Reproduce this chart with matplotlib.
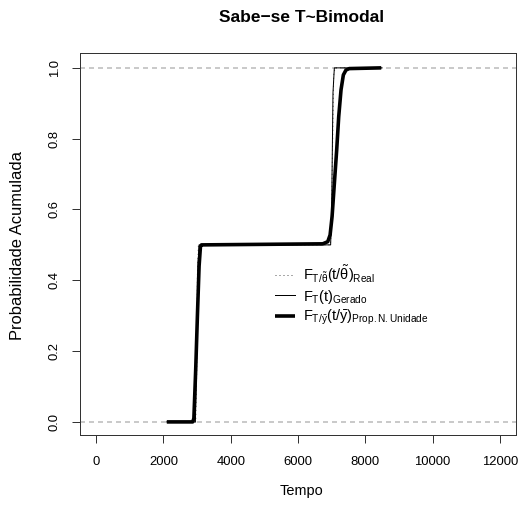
import numpy as np
import matplotlib
matplotlib.use("Agg")
import matplotlib.pyplot as plt

# ---- data ----
t_real = [2100, 2960, 2990, 3010, 3040, 6960, 6990, 7030, 7060, 7100, 8500]
F_real = [0.0, 0.0, 0.15, 0.42, 0.5, 0.5, 0.53, 0.8, 0.98, 1.0, 1.0]

t_gen = [2100, 2950, 2990, 3030, 3060, 6970, 7000, 7040, 7080, 8500]
F_gen = [0.0, 0.0, 0.2, 0.45, 0.5, 0.5, 0.6, 0.93, 1.0, 1.0]

t_prop = [2100, 2870, 2905, 2960, 3010, 3060, 3100, 3130, 6735, 6884, 6954, 7013, 7081,
          7150, 7210, 7279, 7348, 7427, 7526, 8474]
F_prop = [0.0, 0.0, 0.01, 0.15, 0.3, 0.44, 0.495, 0.5, 0.503, 0.509, 0.528, 0.58, 0.674,
          0.768, 0.862, 0.938, 0.98, 0.994, 0.998, 1.0]

ref_levels = [0.0, 1.0]
xticks = [0, 2000, 4000, 6000, 8000, 10000, 12000]
yticks = [0.0, 0.2, 0.4, 0.6, 0.8, 1.0]

title = "Sabe\u2212se T~Bimodal"
xlabel = "Tempo"
ylabel = "Probabilidade Acumulada"
labels = [r"$\mathrm{F_{T/\tilde{\theta}}(t/\tilde{\theta})_{Real}}$",
          r"$\mathrm{F_{T}(t)_{Gerado}}$",
          r"$\mathrm{F_{T/\bar{y}}(t/\bar{y})_{Prop.N.Unidade}}$"]

# ---- style ----
plt.rcParams['font.family'] = ['Liberation Sans', 'DejaVu Sans']
plt.rcParams['mathtext.fontset'] = 'custom'
plt.rcParams['mathtext.rm'] = 'Liberation Sans'
plt.rcParams['mathtext.it'] = 'Liberation Sans:italic'
plt.rcParams['mathtext.bf'] = 'Liberation Sans:bold'
plt.rcParams['lines.scale_dashes'] = False

DPI = 72
fig = plt.figure(figsize=(522 / DPI, 509 / DPI), dpi=DPI)
W, H = 522, 509
ax = fig.add_axes([80 / W, 1 - 435 / H, (516 - 80) / W, (435 - 53) / H])

for lv in ref_levels:
    ax.axhline(lv, color='#BEBEBE', lw=1.6, dashes=(5, 4), zorder=1)

l1, = ax.plot(t_real, F_real, color='#555555', lw=1.0, linestyle=(0, (1, 3)), zorder=2)
l2, = ax.plot(t_gen, F_gen, color='black', lw=1.0, zorder=3)
l3, = ax.plot(t_prop, F_prop, color='black', lw=3.6, zorder=4,
              solid_capstyle='butt', solid_joinstyle='round')

ax.set_xlim(-480, 12480)
ax.set_ylim(-0.037, 1.042)
ax.set_xticks(xticks)
ax.set_xticklabels([str(v) for v in xticks])
ax.set_yticks(yticks)
ax.set_yticklabels([f"{v:.1f}" for v in yticks], rotation=90, va='center')
ax.tick_params(axis='both', length=8, width=1, color='#333333', labelsize=13,
               direction='out')
ax.tick_params(axis='x', pad=13)
ax.tick_params(axis='y', pad=11)
for s in ax.spines.values():
    s.set_color('#333333')
    s.set_linewidth(1.0)

fig.text(302 / W, 1 - 17 / H, title, ha='center', va='center',
         fontsize=17.4, fontweight='bold')
fig.text(302 / W, 1 - 491 / H, xlabel, ha='center', va='center', fontsize=14.5)
fig.text(18 / W, 1 - 246 / H, ylabel, ha='center', va='center', fontsize=16.5, rotation=90)

leg = ax.legend([l1, l2, l3], labels, loc='upper left',
                bbox_to_anchor=(265 / W, 1 - 253 / H), bbox_transform=fig.transFigure,
                frameon=False, fontsize=14.5, handlelength=1.4, handletextpad=0.5,
                labelspacing=0.18, borderpad=0.2)

fig.savefig("out.png", dpi=DPI)
